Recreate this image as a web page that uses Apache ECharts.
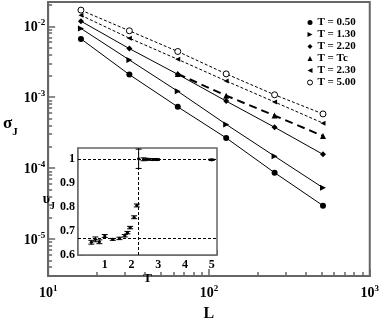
<!DOCTYPE html>
<html>
<head>
<meta charset="utf-8">
<script src="https://cdn.jsdelivr.net/npm/echarts@6/dist/echarts.min.js"></script>
<style>
html, body { margin: 0; padding: 0; background: #fff; }
#chart { width: 382px; height: 327px; }
</style>
</head>
<body>
<div id="chart"></div>
<script>
// main panel: sigma_J vs L (log-log)
var sizes = [16, 32, 64, 128, 256, 512];
var sigT050 = [6.64e-3, 2.08e-3, 7.3e-4, 2.66e-4, 8.6e-5, 2.95e-5];
var sigT130 = [9.3e-3, 3.35e-3, 1.21e-3, 4.13e-4, 1.47e-4, 5.27e-5];
var sigT220 = [1.18e-2, 4.84e-3, 2.10e-3, 8.8e-4, 3.76e-4, 1.56e-4];
var sigTc   = [null, null, 2.13e-3, 1.05e-3, 5.5e-4, 2.83e-4];
var sigT230 = [1.43e-2, 6.79e-3, 3.42e-3, 1.69e-3, 8.55e-4, 4.30e-4];
var sigT500 = [1.69e-2, 8.63e-3, 4.41e-3, 2.13e-3, 1.08e-3, 5.8e-4];

var xDecades = [1, 2, 3];          // 10^1 .. 10^3
var yDecades = [-5, -4, -3, -2];   // 10^-5 .. 10^-2
var xRange = [10, 1000];
var yRange = [3e-6, 0.022];

// inset: nu_J vs T
var insetT   = [0.5, 0.65, 0.8, 1.0, 1.3, 1.55, 1.75, 1.85, 1.95, 2.1, 2.2, 2.269, 2.45, 2.6, 2.8, 2.95, 5.0];
var insetNu  = [0.653, 0.665, 0.655, 0.679, 0.665, 0.669, 0.68, 0.693, 0.714, 0.757, 0.806, 1.0, 0.998, 0.998, 0.997, 0.997, 0.996];
var insetErr = [0.008, 0.01, 0.008, 0.006, 0.004, 0.005, 0.005, 0.005, 0.005, 0.006, 0.006, 0.04, 0.006, 0.004, 0.004, 0.004, 0.003];
var nuRefs = [0.665, 1];
var tc = 2.269;

var serif = 'Liberation Serif';
var axisGrey = '#666';

function lg(v) { return Math.log10(v); }
function minorTicks(lo, hi) {
  var out = [];
  for (var d = Math.floor(lg(lo)); d < Math.ceil(lg(hi)); d++) {
    for (var m = 2; m <= 9; m++) {
      var v = m * Math.pow(10, d);
      if (v > lo && v < hi) out.push(lg(v));
    }
  }
  return out;
}
function pairs(vals) {
  return sizes.map(function (L, i) {
    return vals[i] == null ? [lg(L), null] : [lg(L), lg(vals[i])];
  });
}
function powLabel(v) { return '{b|10}{s|' + v + '}'; }
var powRich = {
  b: { fontFamily: serif, fontWeight: 'bold', fontSize: 14, color: '#000', lineHeight: 16, verticalAlign: 'bottom' },
  s: { fontFamily: serif, fontWeight: 'bold', fontSize: 9, color: '#000', lineHeight: 9, verticalAlign: 'top' }
};

var triRight = 'path://M0,0 L10,5 L0,10 Z';
var triLeft = 'path://M10,0 L0,5 L10,10 Z';

function mainSeries(name, vals, symbol, size, line, item) {
  return {
    name: name, type: 'line', xAxisIndex: 0, yAxisIndex: 0,
    data: pairs(vals), connectNulls: false,
    symbol: symbol, symbolSize: size, showAllSymbol: true,
    itemStyle: item || { color: '#000' },
    lineStyle: line, animation: false, z: 3
  };
}

var chart = echarts.init(document.getElementById('chart'));
var option = {
  animation: false,
  backgroundColor: '#fff',
  grid: [
    { left: 41, top: 2, right: 9, bottom: 44, show: true, borderColor: axisGrey, borderWidth: 2 },
    { left: 78, top: 148, width: 139, height: 107, show: true, backgroundColor: '#fff', borderColor: axisGrey, borderWidth: 1.5, z: 5 }
  ],
  legend: {
    orient: 'vertical', left: 302, top: 12,
    itemWidth: 5, itemHeight: 5, itemGap: 1,
    textStyle: { fontFamily: serif, fontWeight: 'bold', fontSize: 11, lineHeight: 7, color: '#000' },
    data: [
      { name: 'T = 0.50', icon: 'circle' },
      { name: 'T = 1.30', icon: triRight },
      { name: 'T = 2.20', icon: 'diamond' },
      { name: 'T = Tc', icon: 'triangle' },
      { name: 'T = 2.30', icon: triLeft },
      { name: 'T = 5.00', icon: 'circle', itemStyle: { color: '#fff', borderColor: '#000', borderWidth: 1 } }
    ]
  },
  xAxis: [
    {
      type: 'value', gridIndex: 0, position: 'bottom', min: lg(xRange[0]), max: lg(xRange[1]),
      name: 'L', nameLocation: 'middle', nameGap: 30,
      nameTextStyle: { fontFamily: serif, fontWeight: 'bold', fontSize: 16, color: '#000' },
      axisLine: { show: true, lineStyle: { color: axisGrey, width: 2 } },
      axisTick: { show: true, inside: true, length: 7, customValues: xDecades, lineStyle: { color: axisGrey, width: 1.5 } },
      axisLabel: { customValues: xDecades, margin: 8, formatter: powLabel, rich: powRich },
      splitLine: { show: false }
    },
    {
      type: 'value', gridIndex: 0, position: 'bottom', min: lg(xRange[0]), max: lg(xRange[1]),
      axisLine: { show: false },
      axisTick: { show: true, inside: true, length: 4, customValues: minorTicks(xRange[0], xRange[1]), lineStyle: { color: axisGrey, width: 1.5 } },
      axisLabel: { show: false }, splitLine: { show: false }
    },
    {
      type: 'value', gridIndex: 1, min: 0, max: 5.2, interval: 1,
      name: 'T', nameLocation: 'middle', nameGap: 13,
      nameTextStyle: { fontFamily: serif, fontWeight: 'bold', fontSize: 13, color: '#000' },
      axisLine: { show: true, lineStyle: { color: axisGrey, width: 1.5 } },
      axisTick: { inside: true, length: 5, lineStyle: { color: axisGrey } },
      minorTick: { show: true, splitNumber: 2, length: 3, lineStyle: { color: axisGrey } },
      axisLabel: { showMinLabel: false, showMaxLabel: false, margin: 4, fontFamily: serif, fontWeight: 'bold', fontSize: 12, color: '#000' },
      splitLine: { show: false }
    }
  ],
  yAxis: [
    {
      type: 'value', gridIndex: 0, position: 'left', min: lg(yRange[0]), max: lg(yRange[1]),
      name: '{a|σ}{j|J}', nameLocation: 'middle', nameGap: 26, nameRotate: 0,
      nameTextStyle: {
        padding: [0, 0, 29, 0],
        rich: {
          a: { fontFamily: serif, fontWeight: 'bold', fontSize: 17, color: '#000', verticalAlign: 'top', lineHeight: 18 },
          j: { fontFamily: serif, fontWeight: 'bold', fontSize: 11, color: '#000', verticalAlign: 'bottom', lineHeight: 11, padding: [0, 0, -4, 0] }
        }
      },
      axisLine: { show: true, lineStyle: { color: axisGrey, width: 2 } },
      axisTick: { show: true, inside: true, length: 7, customValues: yDecades, lineStyle: { color: axisGrey, width: 1.5 } },
      axisLabel: { customValues: yDecades, margin: 3, formatter: powLabel, rich: powRich },
      splitLine: { show: false }
    },
    {
      type: 'value', gridIndex: 0, position: 'left', min: lg(yRange[0]), max: lg(yRange[1]),
      axisLine: { show: false },
      axisTick: { show: true, inside: true, length: 4, customValues: minorTicks(yRange[0], yRange[1]), lineStyle: { color: axisGrey, width: 1.5 } },
      axisLabel: { show: false }, splitLine: { show: false }
    },
    {
      type: 'value', gridIndex: 1, min: 0.6, max: 1.045, interval: 0.1,
      name: '{a|υ}{j|J}', nameLocation: 'middle', nameGap: 18, nameRotate: 0,
      nameTextStyle: {
        padding: [0, 0, 4, 0],
        rich: {
          a: { fontFamily: serif, fontWeight: 'bold', fontSize: 14, color: '#000', verticalAlign: 'top', lineHeight: 15 },
          j: { fontFamily: serif, fontWeight: 'bold', fontSize: 10, color: '#000', verticalAlign: 'bottom', lineHeight: 10, padding: [0, 0, -4, 0] }
        }
      },
      axisLine: { show: true, lineStyle: { color: axisGrey, width: 1.5 } },
      axisTick: { inside: true, length: 5, lineStyle: { color: axisGrey } },
      minorTick: { show: true, splitNumber: 2, length: 3, lineStyle: { color: axisGrey } },
      axisLabel: {
        showMaxLabel: false, margin: 3, fontFamily: serif, fontWeight: 'bold', fontSize: 12, color: '#000',
        formatter: function (v) { return Math.abs(v - 1) < 1e-9 ? '1' : v.toFixed(1); }
      },
      splitLine: { show: false }
    }
  ],
  series: [
    mainSeries('T = 0.50', sigT050, 'circle', 6, { color: '#000', width: 1 }),
    mainSeries('T = 1.30', sigT130, triRight, 6, { color: '#000', width: 1 }),
    mainSeries('T = 2.20', sigT220, 'diamond', 6, { color: '#000', width: 1 }),
    mainSeries('T = Tc', sigTc, 'triangle', 6, { color: '#000', width: 2, type: [8, 5] }),
    mainSeries('T = 2.30', sigT230, triLeft, 5, { color: '#000', width: 1, type: [3, 2] }),
    mainSeries('T = 5.00', sigT500, 'circle', 6, { color: '#000', width: 1, type: [3, 2] },
      { color: '#fff', borderColor: '#000', borderWidth: 1 }),
    {
      type: 'custom', xAxisIndex: 2, yAxisIndex: 2, z: 10,
      data: insetT.map(function (t, i) { return [t, insetNu[i], insetErr[i]]; }),
      renderItem: function (params, api) {
        var x = api.value(0), y = api.value(1), e = api.value(2);
        var hi = api.coord([x, y + e]), lo = api.coord([x, y - e]), c = api.coord([x, y]);
        var st = { stroke: '#000', lineWidth: 1 };
        return {
          type: 'group',
          children: [
            { type: 'line', shape: { x1: c[0], y1: hi[1], x2: c[0], y2: lo[1] }, style: st },
            { type: 'line', shape: { x1: c[0] - 3, y1: hi[1], x2: c[0] + 3, y2: hi[1] }, style: st },
            { type: 'line', shape: { x1: c[0] - 3, y1: lo[1], x2: c[0] + 3, y2: lo[1] }, style: st },
            { type: 'circle', shape: { cx: c[0], cy: c[1], r: 1.6 }, style: { fill: '#000' } }
          ]
        };
      },
      markLine: {
        silent: true, symbol: 'none', label: { show: false },
        lineStyle: { color: '#000', width: 1, type: [3, 2] },
        data: nuRefs.map(function (v) { return { yAxis: v }; }).concat([{ xAxis: tc }])
      }
    }
  ]
};
chart.setOption(option);
</script>
</body>
</html>
